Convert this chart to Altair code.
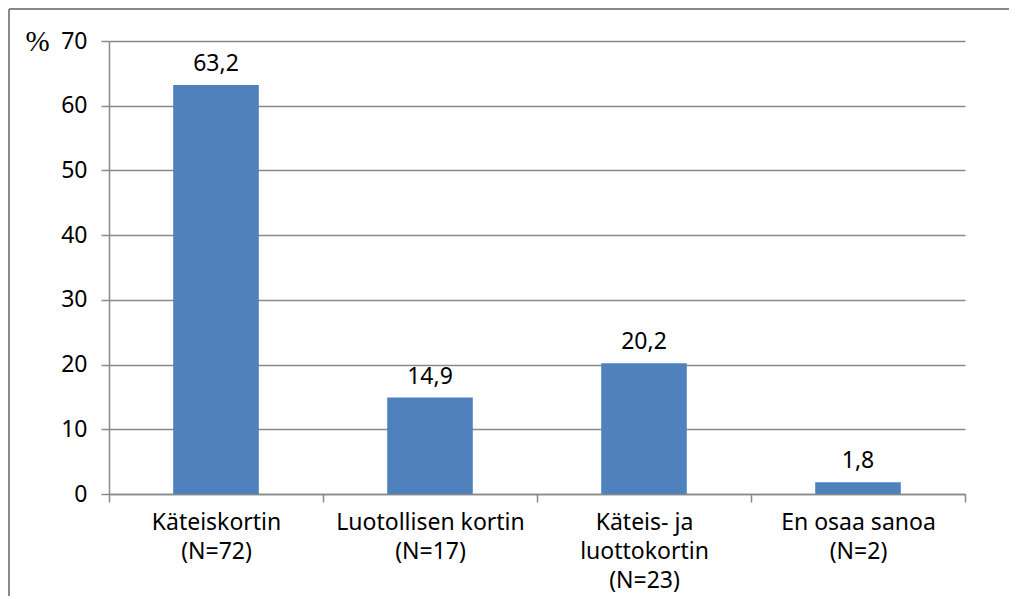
import altair as alt
import pandas as pd

categories = [
    "Käteiskortin\n(N=72)",
    "Luotollisen kortin\n(N=17)",
    "Käteis- ja\nluottokortin\n(N=23)",
    "En osaa sanoa\n(N=2)",
]
values = [63.2, 14.9, 20.2, 1.8]
labels = ["63,2", "14,9", "20,2", "1,8"]
y_ticks = [0, 10, 20, 30, 40, 50, 60, 70]

df = pd.DataFrame({"cat": categories, "value": values, "label": labels})

FONT = "Noto Sans"
GRAY = "#898989"
BLUE = "#4F81BD"

x = alt.X(
    "cat:N",
    sort=categories,
    scale=alt.Scale(paddingInner=0, paddingOuter=0),
    axis=alt.Axis(
        title=None,
        labelAngle=0,
        labelExpr="split(datum.label, '\\n')",
        labelLimit=400,
        tickBand="extent",
        ticks=True,
        tickSize=8,
        tickColor=GRAY,
        tickWidth=1.5,
        domainColor=GRAY,
        domainWidth=1.5,
        labelFont=FONT,
        labelFontSize=23,
        labelColor="black",
        labelLineHeight=29,
        labelPadding=9,
    ),
)

y = alt.Y(
    "value:Q",
    scale=alt.Scale(domain=[0, 70]),
    axis=alt.Axis(
        values=y_ticks,
        title="%",
        titleAngle=0,
        titleX=-72,
        titleY=0,
        titleAlign="center",
        titleBaseline="middle",
        titleFont="Liberation Serif",
        titleFontSize=29,
        titleFontWeight="normal",
        titleColor="black",
        grid=True,
        gridColor=GRAY,
        gridWidth=1.5,
        domainColor=GRAY,
        domainWidth=1.5,
        tickColor=GRAY,
        tickWidth=1.5,
        tickSize=8,
        labelFont=FONT,
        labelFontSize=23,
        labelColor="black",
        labelPadding=14,
    ),
)

base = alt.Chart(df)
bars = base.mark_bar(width=alt.RelativeBandSize(0.4), color=BLUE).encode(x=x, y=y)
text = base.mark_text(baseline="bottom", dy=-9, font=FONT, fontSize=23, color="black").encode(
    x=alt.X("cat:N", sort=categories), y="value:Q", text="label:N"
)

frame_df = pd.DataFrame({"a": [0]})
left_border = alt.Chart(frame_df).mark_rule(color=GRAY, strokeWidth=2).encode(
    x=alt.value(-100), y=alt.value(-32), y2=alt.value(560)
)
top_border = alt.Chart(frame_df).mark_rule(color=GRAY, strokeWidth=2).encode(
    x=alt.value(-100), x2=alt.value(900), y=alt.value(-32)
)

chart = (
    alt.layer(bars, text, left_border, top_border)
    .properties(
        width=856,
        height=453,
        autosize=alt.AutoSizeParams(type="none"),
        padding={"left": 101, "top": 33, "right": 44, "bottom": 102},
    )
    .configure_view(strokeWidth=0)
)

chart.save("out.html", embed_options={"renderer": "svg", "actions": False})
